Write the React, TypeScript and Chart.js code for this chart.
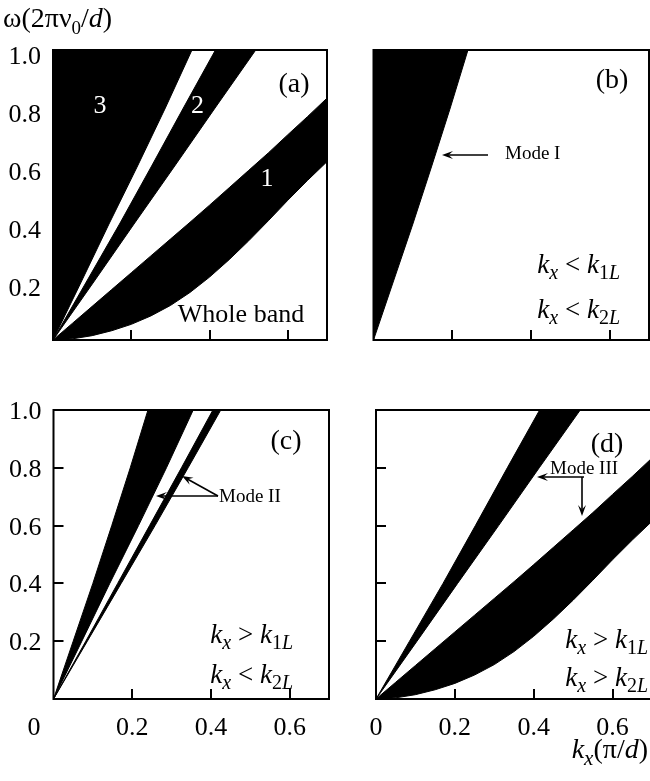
import React, { useEffect, useRef } from 'react';
import { Chart, registerables } from 'chart.js';

Chart.register(...registerables);

// ---------- axes ----------
const X_MIN = 0;
const X_MAX = 0.7;
const Y_MIN = 0;
const Y_MAX = 1;
const xTickValues = [0.2, 0.4, 0.6];
const xTickLabels = ['0.2', '0.4', '0.6'];
const yTickValues = [0.2, 0.4, 0.6, 0.8, 1.0];
const yTickLabels = ['0.2', '0.4', '0.6', '0.8', '1.0'];

// ---------- straight-ish band edges, kx read at these ω ----------
const omegaGrid = [0, 0.2, 0.4, 0.6, 0.8, 1.0];
const kxK1L = [0, 0.05, 0.1, 0.148, 0.195, 0.24];
const kxBand3Edge = [0, 0.072, 0.143, 0.216, 0.287, 0.355];
const kxModeIILeft = [0, 0.082, 0.163, 0.244, 0.325, 0.405];
const kxModeIIRight = [0, 0.086, 0.172, 0.258, 0.342, 0.425];
const kxBand2Left = [0, 0.085, 0.17, 0.252, 0.333, 0.415];
const kxBand2Right = [0, 0.104, 0.207, 0.311, 0.414, 0.518];

// ---------- band 1, ω read at these kx ----------
const kxBand1 = [0, 0.05, 0.1, 0.15, 0.2, 0.25, 0.3, 0.35, 0.4, 0.45, 0.5, 0.55, 0.6, 0.65, 0.7];
const omegaBand1Upper = [0, 0.058, 0.116, 0.174, 0.232, 0.29, 0.348, 0.406, 0.465, 0.525, 0.585, 0.645, 0.708, 0.77, 0.834];
const omegaBand1Lower = [0, 0.004, 0.015, 0.032, 0.054, 0.083, 0.119, 0.164, 0.217, 0.277, 0.342, 0.411, 0.482, 0.55, 0.615];

const FONT = '"Liberation Serif", "DejaVu Serif", serif';
const W = 660;
const H = 781;

type Pt = { x: number; y: number };

const edge = (kx: number[]): Pt[] => kx.map((k, i) => ({ x: k, y: omegaGrid[i] }));
const wedge = (left: number[], right: number[]): Pt[] => [
  ...edge(left),
  ...edge(right).reverse(),
];
const band1Shape = (): Pt[] => [
  ...kxBand1.map((k, i) => ({ x: k, y: omegaBand1Upper[i] })),
  ...kxBand1.map((k, i) => ({ x: k, y: omegaBand1Lower[i] })).reverse(),
];

const area = (data: Pt[], fill: any) => ({
  data,
  fill,
  backgroundColor: '#000',
  borderColor: '#000',
  borderWidth: 1,
  pointRadius: 0,
  tension: 0,
});

type Part = { t: string; i?: boolean; sub?: boolean };

function drawRich(
  ctx: CanvasRenderingContext2D,
  parts: Part[],
  x: number,
  y: number,
  align: 'left' | 'right' | 'center',
  size: number,
  subSize: number,
  color = '#000'
) {
  ctx.save();
  ctx.fillStyle = color;
  ctx.textBaseline = 'alphabetic';
  ctx.textAlign = 'left';
  const fontOf = (p: Part) => `${p.i ? 'italic ' : ''}${p.sub ? subSize : size}px ${FONT}`;
  const widths = parts.map((p) => {
    ctx.font = fontOf(p);
    return ctx.measureText(p.t).width;
  });
  const total = widths.reduce((a, b) => a + b, 0);
  let cx = align === 'left' ? x : align === 'right' ? x - total : x - total / 2;
  parts.forEach((p, k) => {
    ctx.font = fontOf(p);
    ctx.fillText(p.t, cx, y + (p.sub ? Math.round(size * 0.24) : 0));
    cx += widths[k];
  });
  ctx.restore();
}

function arrow(ctx: CanvasRenderingContext2D, x1: number, y1: number, x2: number, y2: number) {
  const ang = Math.atan2(y2 - y1, x2 - x1);
  const hl = 11;
  const hw = 4;
  ctx.save();
  ctx.strokeStyle = '#000';
  ctx.fillStyle = '#000';
  ctx.lineWidth = 1.6;
  ctx.beginPath();
  ctx.moveTo(x1, y1);
  ctx.lineTo(x2 - Math.cos(ang) * hl * 0.6, y2 - Math.sin(ang) * hl * 0.6);
  ctx.stroke();
  ctx.beginPath();
  ctx.moveTo(x2, y2);
  ctx.lineTo(x2 - Math.cos(ang) * hl - Math.sin(ang) * hw, y2 - Math.sin(ang) * hl + Math.cos(ang) * hw);
  ctx.lineTo(x2 - Math.cos(ang) * hl * 0.6, y2 - Math.sin(ang) * hl * 0.6);
  ctx.lineTo(x2 - Math.cos(ang) * hl + Math.sin(ang) * hw, y2 - Math.sin(ang) * hl - Math.cos(ang) * hw);
  ctx.closePath();
  ctx.fill();
  ctx.restore();
}

function text(
  ctx: CanvasRenderingContext2D,
  s: string,
  x: number,
  y: number,
  size: number,
  align: CanvasTextAlign = 'center',
  color = '#000'
) {
  ctx.save();
  ctx.font = `${size}px ${FONT}`;
  ctx.fillStyle = color;
  ctx.textAlign = align;
  ctx.textBaseline = 'alphabetic';
  ctx.fillText(s, x, y);
  ctx.restore();
}

type PanelSpec = {
  id: string;
  L: number;
  T: number;
  R: number;
  B: number;
  datasets: any[];
  yLabels?: boolean;
  yLabelShift?: number;
  xLabels?: boolean;
  zeroX?: number;
  rightBorder: boolean;
  extra: (ctx: CanvasRenderingContext2D) => void;
};

const kLess = (n: string): Part[] => [
  { t: 'k', i: true },
  { t: 'x', i: true, sub: true },
  { t: ' < ' },
  { t: 'k', i: true },
  { t: n, sub: true },
  { t: 'L', i: true, sub: true },
];
const kMore = (n: string): Part[] => [
  { t: 'k', i: true },
  { t: 'x', i: true, sub: true },
  { t: ' > ' },
  { t: 'k', i: true },
  { t: n, sub: true },
  { t: 'L', i: true, sub: true },
];

const TICK_FONT = 26;

const panels: PanelSpec[] = [
  {
    id: 'a',
    L: 53,
    T: 50,
    R: 327,
    B: 340,
    datasets: [
      area(edge(kxBand3Edge), 'end'),
      area(wedge(kxBand2Left, kxBand2Right), 'shape'),
      area(band1Shape(), 'shape'),
    ],
    yLabels: true,
    yLabelShift: 5,
    rightBorder: true,
    extra: (ctx) => {
      drawRich(
        ctx,
        [{ t: 'ω(2πν' }, { t: '0', sub: true }, { t: '/' }, { t: 'd', i: true }, { t: ')' }],
        3,
        27,
        'left',
        28,
        19
      );
      text(ctx, '(a)', 294, 92, 28);
      text(ctx, '3', 100, 113, 26, 'center', '#fff');
      text(ctx, '2', 197.5, 113, 26, 'center', '#fff');
      text(ctx, '1', 267, 186, 26, 'center', '#fff');
      text(ctx, 'Whole band', 241, 322, 26);
    },
  },
  {
    id: 'b',
    L: 373.5,
    T: 50,
    R: 649,
    B: 340,
    datasets: [area(edge(kxK1L), 'end')],
    rightBorder: true,
    extra: (ctx) => {
      text(ctx, '(b)', 612, 88, 28);
      text(ctx, 'Mode I', 505, 159, 19, 'left');
      arrow(ctx, 488, 155, 442, 155);
      drawRich(ctx, kLess('1'), 620, 273, 'right', 27, 20);
      drawRich(ctx, kLess('2'), 620, 318, 'right', 27, 20);
    },
  },
  {
    id: 'c',
    L: 53.5,
    T: 410,
    R: 329,
    B: 699,
    datasets: [
      area(wedge(kxK1L, kxBand3Edge), 'shape'),
      area(wedge(kxModeIILeft, kxModeIIRight), 'shape'),
    ],
    yLabels: true,
    xLabels: true,
    zeroX: 34,
    rightBorder: true,
    extra: (ctx) => {
      text(ctx, '(c)', 286, 449, 28);
      text(ctx, 'Mode II', 219, 502, 19, 'left');
      arrow(ctx, 218, 496, 156, 496);
      arrow(ctx, 218, 496, 182, 476);
      drawRich(ctx, kMore('1'), 293, 643, 'right', 27, 20);
      drawRich(ctx, kLess('2'), 293, 683, 'right', 27, 20);
    },
  },
  {
    id: 'd',
    L: 376,
    T: 410,
    R: 652,
    B: 699,
    datasets: [area(wedge(kxBand2Left, kxBand2Right), 'shape'), area(band1Shape(), 'shape')],
    xLabels: true,
    zeroX: 376,
    rightBorder: false,
    extra: (ctx) => {
      text(ctx, '(d)', 607, 452, 28);
      text(ctx, 'Mode III', 550, 474, 19, 'left');
      arrow(ctx, 584, 477, 537, 477);
      arrow(ctx, 582, 477, 582, 516);
      drawRich(ctx, kMore('1'), 648, 648, 'right', 27, 20);
      drawRich(ctx, kMore('2'), 648, 686, 'right', 27, 20);
      drawRich(
        ctx,
        [{ t: 'k', i: true }, { t: 'x', i: true, sub: true }, { t: '(π/' }, { t: 'd', i: true }, { t: ')' }],
        648,
        758,
        'right',
        28,
        21
      );
    },
  },
];

function makeDecor(spec: PanelSpec) {
  return {
    id: 'decor_' + spec.id,
    afterDatasetsDraw(chart: any) {
      const ctx: CanvasRenderingContext2D = chart.ctx;
      const { left, right, top, bottom } = chart.chartArea;
      const xs = chart.scales.x;
      const ys = chart.scales.y;
      ctx.save();
      ctx.strokeStyle = '#000';
      ctx.lineWidth = 2;
      ctx.beginPath();
      ctx.moveTo(left, top);
      ctx.lineTo(left, bottom);
      ctx.moveTo(left - 1, bottom);
      ctx.lineTo(right + 1, bottom);
      ctx.moveTo(left - 1, top);
      ctx.lineTo(right + 1, top);
      if (spec.rightBorder) {
        ctx.moveTo(right, top);
        ctx.lineTo(right, bottom);
      }
      ctx.stroke();
      // inward ticks
      ctx.beginPath();
      xTickValues.forEach((v) => {
        const px = Math.round(xs.getPixelForValue(v));
        ctx.moveTo(px, bottom);
        ctx.lineTo(px, bottom - 10);
      });
      yTickValues.forEach((v) => {
        if (v >= Y_MAX) return;
        const py = Math.round(ys.getPixelForValue(v));
        ctx.moveTo(left, py);
        ctx.lineTo(left + 10, py);
      });
      ctx.stroke();
      ctx.restore();

      if (spec.yLabels) {
        yTickValues.forEach((v, i) => {
          const py = ys.getPixelForValue(v) + (spec.yLabelShift || 0);
          text(ctx, yTickLabels[i], left - 12, py + 9, TICK_FONT, 'right');
        });
      }
      if (spec.xLabels) {
        xTickValues.forEach((v, i) => {
          text(ctx, xTickLabels[i], xs.getPixelForValue(v), bottom + 36, TICK_FONT, 'center');
        });
        if (spec.zeroX !== undefined) text(ctx, '0', spec.zeroX, bottom + 36, TICK_FONT, 'center');
      }
      spec.extra(ctx);
    },
  };
}

function Panel({ spec }: { spec: PanelSpec }) {
  const ref = useRef<HTMLCanvasElement>(null);
  useEffect(() => {
    const canvas = ref.current;
    if (!canvas) return;
    const chart = new Chart(canvas, {
      type: 'line',
      data: { datasets: spec.datasets },
      options: {
        animation: false,
        responsive: false,
        maintainAspectRatio: false,
        events: [],
        layout: {
          padding: { left: spec.L, top: spec.T, right: W - spec.R, bottom: H - spec.B },
        },
        plugins: {
          legend: { display: false },
          tooltip: { enabled: false },
          title: { display: false },
        },
        scales: {
          x: { type: 'linear', min: X_MIN, max: X_MAX, display: false },
          y: { type: 'linear', min: Y_MIN, max: Y_MAX, display: false },
        },
      } as any,
      plugins: [makeDecor(spec)],
    } as any);
    return () => chart.destroy();
  }, []);
  return (
    <canvas
      ref={ref}
      width={W}
      height={H}
      style={{ position: 'absolute', left: 0, top: 0, width: W, height: H }}
    />
  );
}

export default function App() {
  return (
    <div
      style={{
        position: 'absolute',
        left: 0,
        top: 0,
        width: 650,
        height: 781,
        overflow: 'hidden',
        background: '#fff',
      }}
    >
      {panels.map((p) => (
        <Panel key={p.id} spec={p} />
      ))}
    </div>
  );
}
